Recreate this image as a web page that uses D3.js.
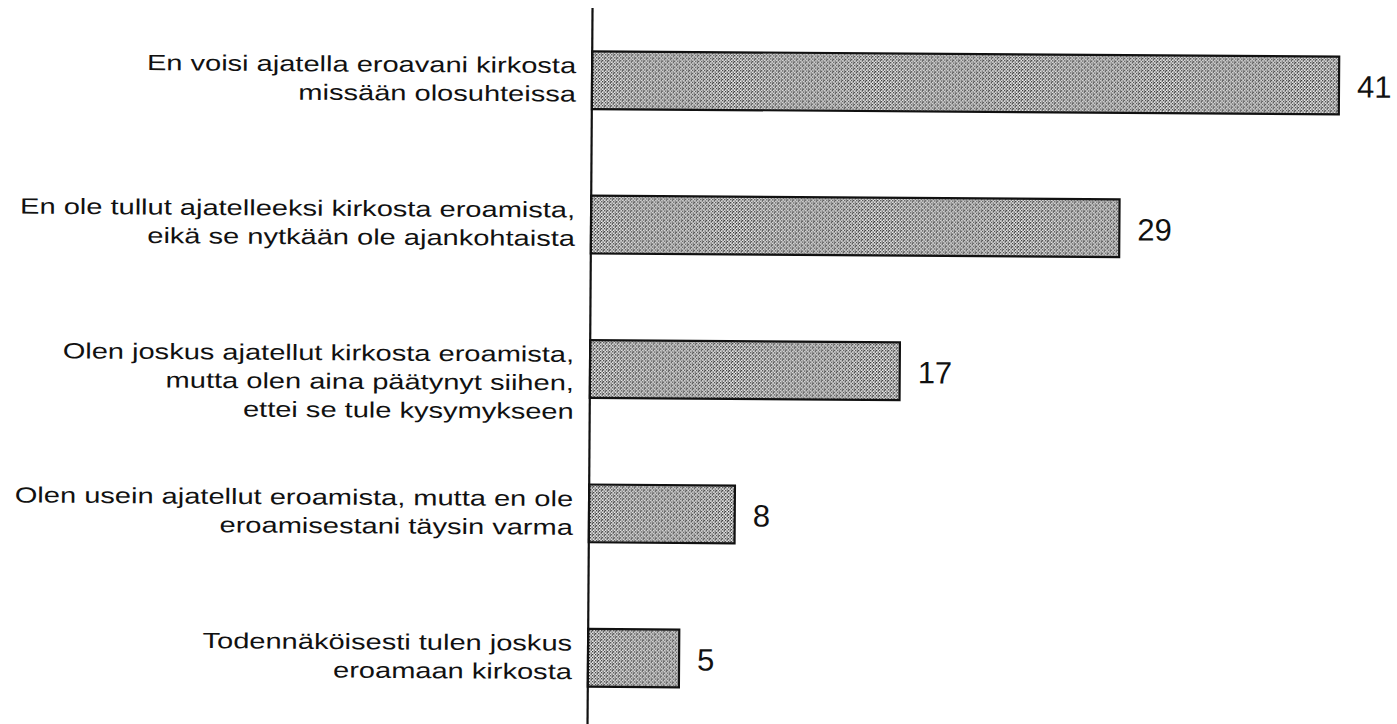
<!DOCTYPE html>
<html>
<head>
<meta charset="utf-8">
<script src="https://cdn.jsdelivr.net/npm/d3@7"></script>
<style>
  body { margin: 0; background: #fff; }
  svg { display: block; }
</style>
</head>
<body>
<div id="chart"></div>
<script>
// data
var categories = [
    "En voisi ajatella eroavani kirkosta\nmissään olosuhteissa",
    "En ole tullut ajatelleeksi kirkosta eroamista,\neikä se nytkään ole ajankohtaista",
    "Olen joskus ajatellut kirkosta eroamista,\nmutta olen aina päätynyt siihen,\nettei se tule kysymykseen",
    "Olen usein ajatellut eroamista, mutta en ole\neroamisestani täysin varma",
    "Todennäköisesti tulen joskus\neroamaan kirkosta"
];
var values = [41, 29, 17, 8, 5];

var w = 1397,
    h = 724,
    axisX = 590,
    lineH = 28.5;

var xScale = d3.scaleLinear()
    .domain([0, 41])
    .range([axisX, 1337]);
var yScale = d3.scaleBand()
    .domain(categories)
    .range([8, 730])
    .paddingInner(0.6)
    .paddingOuter(0.3);

var svg = d3.select("#chart")
    .append("svg")
    .attr("width", w)
    .attr("height", h);

// stipple fill like the scanned original
var pat = svg.append("defs").append("pattern")
    .attr("id", "stipple")
    .attr("patternUnits", "userSpaceOnUse")
    .attr("width", 6)
    .attr("height", 6);
pat.append("rect").attr("width", 6).attr("height", 6).attr("fill", "#f4f4f4");
var dots = [[0,0],[3,0],[1.5,1.5],[4.5,1.5],[0,3],[3,3],[1.5,4.5],[4.5,4.5],[5,0.5],[2,3.5]];
pat.selectAll("rect.d")
    .data(dots)
    .enter()
    .append("rect")
    .attr("class", "d")
    .attr("x", function (d) { return d[0]; })
    .attr("y", function (d) { return d[1]; })
    .attr("width", 1.3)
    .attr("height", 1.3)
    .attr("fill", "#333");

// the scan is a little tilted
var g = svg.append("g")
    .attr("transform", "rotate(0.4," + axisX + ",370)");

g.selectAll("rect.bar")
    .data(values)
    .enter()
    .append("rect")
    .attr("class", "bar")
    .attr("x", xScale(0))
    .attr("y", function (d, i) { return yScale(categories[i]); })
    .attr("width", function (d) { return xScale(d) - xScale(0); })
    .attr("height", yScale.bandwidth())
    .attr("fill", "url(#stipple)")
    .attr("stroke", "#111")
    .attr("stroke-width", 2.2);

// value labels
g.selectAll("text.val")
    .data(values)
    .enter()
    .append("text")
    .attr("class", "val")
    .text(function (d) { return d; })
    .attr("x", function (d) { return xScale(d) + 18; })
    .attr("y", function (d, i) { return yScale(categories[i]) + yScale.bandwidth() / 2 + 12; })
    .attr("font-family", "'Liberation Sans', Arial, sans-serif")
    .attr("font-size", "31px")
    .attr("fill", "#111");

// category labels, first line near bar centre, rest hang below
var lab = g.selectAll("g.lab")
    .data(categories)
    .enter()
    .append("g")
    .attr("class", "lab")
    .attr("transform", function (d) {
        return "translate(574," + (yScale(d) + yScale.bandwidth() / 2 - 7) + ") scale(1.32,1)";
    });

lab.selectAll("text")
    .data(function (d) { return d.split("\n"); })
    .enter()
    .append("text")
    .text(function (d) { return d; })
    .attr("x", 0)
    .attr("y", function (d, i) { return i * lineH; })
    .attr("text-anchor", "end")
    .attr("font-family", "'Liberation Sans', Arial, sans-serif")
    .attr("font-size", "22px")
    .attr("fill", "#111");

// vertical axis line
var yAxis = d3.axisLeft(yScale).tickSize(0).tickFormat("");
g.append("g")
    .attr("class", "axis")
    .attr("transform", "translate(" + axisX + ",0)")
    .call(yAxis)
    .call(function (a) {
        a.select(".domain")
            .attr("d", "M0,8V" + (h + 10))
            .attr("stroke", "#111")
            .attr("stroke-width", 2.2);
    });
</script>
</body>
</html>
